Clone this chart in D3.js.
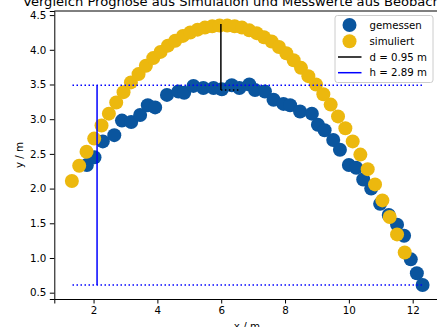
<!DOCTYPE html>
<html><head><meta charset="utf-8">
<script src="https://cdn.jsdelivr.net/npm/d3@7"></script>
<style>body{margin:0;background:#fff;overflow:hidden}svg{display:block;font-family:"DejaVu Sans",sans-serif}</style>
</head><body>
<script>
const measX = [1.79,2.03,2.29,2.65,2.89,3.18,3.46,3.70,3.93,4.30,4.66,4.84,5.13,5.44,5.76,6.02,6.33,6.57,6.88,7.06,7.37,7.64,7.95,8.16,8.47,8.84,9.03,9.24,9.51,9.72,10.00,10.23,10.45,10.70,10.98,11.25,11.51,11.73,11.94,12.13,12.31];
const measY = [2.34,2.45,2.68,2.77,2.98,2.96,3.06,3.20,3.17,3.35,3.40,3.38,3.48,3.45,3.45,3.43,3.49,3.45,3.50,3.42,3.40,3.28,3.22,3.20,3.11,3.08,2.92,2.84,2.70,2.56,2.34,2.30,2.13,2.00,1.78,1.62,1.48,1.32,0.98,0.78,0.61];
const simX = [1.32,1.55,1.78,2.02,2.25,2.48,2.71,2.94,3.17,3.41,3.64,3.87,4.10,4.33,4.56,4.80,5.03,5.26,5.49,5.72,5.95,6.19,6.42,6.65,6.88,7.11,7.34,7.58,7.81,8.04,8.27,8.50,8.73,8.97,9.20,9.43,9.66,9.89,10.12,10.36,10.59,10.82,11.05,11.28,11.51,11.75];
const simY = [2.11,2.33,2.53,2.72,2.91,3.08,3.24,3.39,3.53,3.65,3.77,3.88,3.97,4.06,4.13,4.20,4.25,4.29,4.32,4.34,4.35,4.35,4.34,4.32,4.28,4.24,4.18,4.12,4.04,3.95,3.85,3.74,3.62,3.50,3.36,3.21,3.04,2.87,2.68,2.49,2.28,2.06,1.83,1.59,1.34,1.08];
const xTicks = [2,4,6,8,10,12];
const yTicks = [0.5,1.0,1.5,2.0,2.5,3.0,3.5,4.0,4.5];
const dLine = {x:5.99, y1:4.37, y2:3.42, x2:6.6};
const hLine = {x:2.11, yTop:3.49, yBot:0.61, xStart:1.34, xEnd:12.29};
const title = "Vergleich Prognose aus Simulation und Messwerte aus Beobachtung";
const legendLabels = ["gemessen","simuliert","d = 0.95 m","h = 2.89 m"];
const cBlue = "#0a559e", cYellow = "#ecb80e";

const W=437,H=327;
const L=54.3,R=439.5,T=11,B=299;
const x=d3.scaleLinear().domain([0.77,12.84]).range([L,R]);
const y=d3.scaleLinear().domain([0.409,4.559]).range([B,T]);
const svg=d3.select("body").append("svg").attr("width",W).attr("height",H);
svg.append("defs").append("clipPath").attr("id","clip").append("rect").attr("x",L).attr("y",T).attr("width",R-L).attr("height",B-T);
const g=svg.append("g").attr("clip-path","url(#clip)");
const r=7;
g.selectAll("circle.m").data(measX.map((v,i)=>[v,measY[i]])).join("circle").attr("class","m")
 .attr("cx",d=>x(d[0])).attr("cy",d=>y(d[1])).attr("r",r).attr("fill",cBlue);
g.selectAll("circle.s").data(simX.map((v,i)=>[v,simY[i]])).join("circle").attr("class","s")
 .attr("cx",d=>x(d[0])).attr("cy",d=>y(d[1])).attr("r",r).attr("fill",cYellow);
[hLine.yTop,hLine.yBot].forEach(v=>{
 g.append("line").attr("x1",x(hLine.xStart)).attr("x2",x(hLine.xEnd)).attr("y1",y(v)).attr("y2",y(v))
  .attr("stroke","#0000ff").attr("stroke-width",1.5).attr("stroke-dasharray","1.5,2.5");
});
g.append("line").attr("x1",x(hLine.x)).attr("x2",x(hLine.x)).attr("y1",y(hLine.yTop)).attr("y2",y(hLine.yBot))
 .attr("stroke","#0000ff").attr("stroke-width",1.5);
g.append("line").attr("x1",x(dLine.x)).attr("x2",x(dLine.x)).attr("y1",y(dLine.y1)).attr("y2",y(dLine.y2))
 .attr("stroke","#000").attr("stroke-width",1.5);
g.append("line").attr("x1",x(dLine.x)).attr("x2",x(dLine.x2)).attr("y1",y(dLine.y2)).attr("y2",y(dLine.y2))
 .attr("stroke","#000").attr("stroke-width",1.5).attr("stroke-dasharray","1.5,2.5");

const xa=svg.append("g").attr("transform",`translate(0,${B})`).call(d3.axisBottom(x).tickValues(xTicks).tickFormat(d3.format("d")).tickSizeOuter(0).tickSize(4.5).tickPadding(3.5));
const ya=svg.append("g").attr("transform",`translate(${L},0)`).call(d3.axisLeft(y).tickValues(yTicks).tickFormat(d3.format(".1f")).tickSizeOuter(0).tickSize(4.5).tickPadding(3.5));
[xa,ya].forEach(a=>{a.selectAll("text").attr("font-size",10.3).attr("fill","#000").attr("font-family","DejaVu Sans");a.select(".domain").attr("stroke-width",1);a.selectAll(".tick line").attr("stroke-width",1);});
svg.append("line").attr("x1",L).attr("x2",R).attr("y1",T).attr("y2",T).attr("stroke","#000");
svg.append("line").attr("x1",R).attr("x2",R).attr("y1",T).attr("y2",B).attr("stroke","#000");

svg.append("text").attr("x",(L+R)/2).attr("y",5.5).attr("text-anchor","middle").attr("font-size",13.1).text(title);
svg.append("text").attr("x",(L+R)/2).attr("y",330).attr("text-anchor","middle").attr("font-size",10.3).text("x / m");
svg.append("text").attr("transform",`translate(23,${(T+B)/2}) rotate(-90)`).attr("text-anchor","middle").attr("font-size",10.3).text("y / m");

const lg=svg.append("g");
lg.append("rect").attr("x",335).attr("y",15.5).attr("width",98).attr("height",67).attr("rx",2.5)
 .attr("fill","#fff").attr("fill-opacity",0.8).attr("stroke","#cccccc").attr("stroke-width",1);
const rows=[25,41.3,57,72.7];
lg.append("circle").attr("cx",349.5).attr("cy",rows[0]).attr("r",r).attr("fill",cBlue);
lg.append("circle").attr("cx",349.5).attr("cy",rows[1]).attr("r",r).attr("fill",cYellow);
lg.append("line").attr("x1",338).attr("x2",361.5).attr("y1",rows[2]).attr("y2",rows[2]).attr("stroke","#000").attr("stroke-width",1.5);
lg.append("line").attr("x1",338).attr("x2",361.5).attr("y1",rows[3]).attr("y2",rows[3]).attr("stroke","#0000ff").attr("stroke-width",1.5);
legendLabels.forEach((t,i)=>lg.append("text").attr("x",369.5).attr("y",rows[i]+3.7).attr("font-size",10.2).text(t));
</script>
</body></html>
